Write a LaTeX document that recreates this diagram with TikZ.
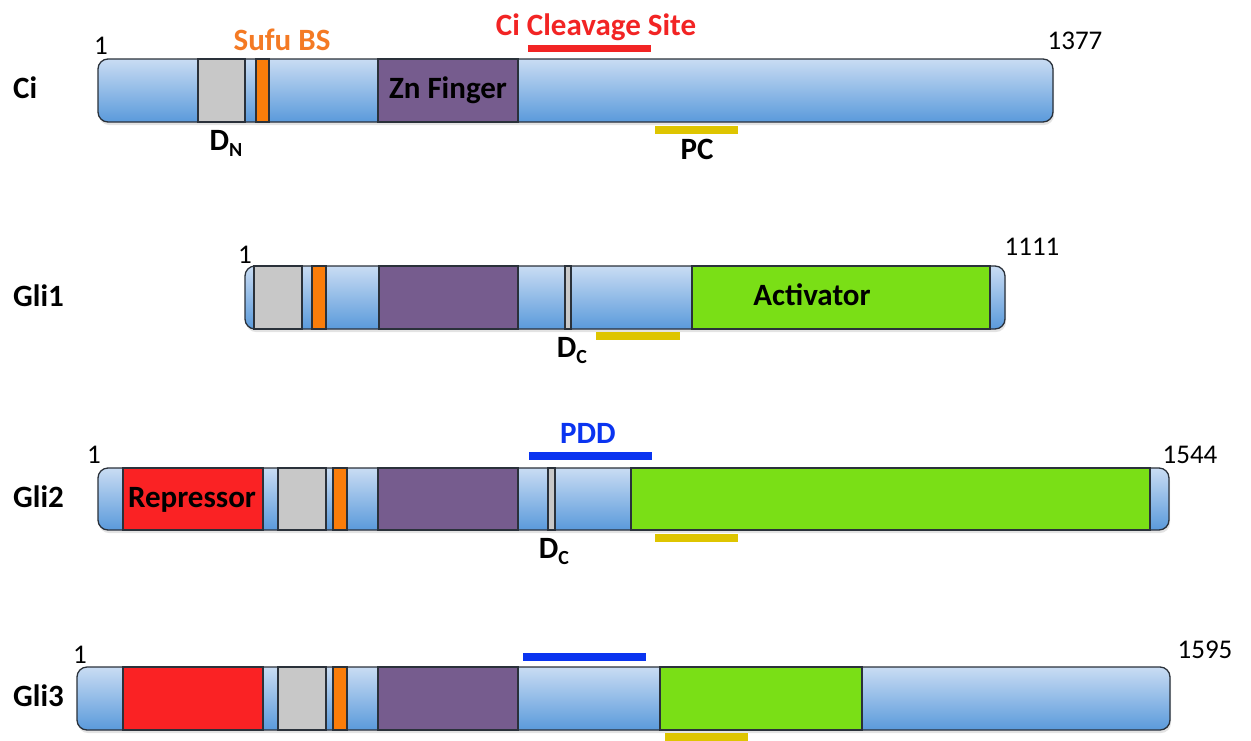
\documentclass[tikz,border=0pt]{standalone}
\usepackage{fontspec}
\setmainfont{Carlito}
\usetikzlibrary{shadows}

\definecolor{edge}{HTML}{2A313A}
\definecolor{bluetop}{HTML}{C9DCF3}
\definecolor{bluebot}{HTML}{5A9ADB}
\definecolor{dgray}{HTML}{C8C8C8}
\definecolor{sufu}{HTML}{FA7D0A}
\definecolor{zinc}{HTML}{765C8E}
\definecolor{repr}{HTML}{FA2224}
\definecolor{activ}{HTML}{7ADF16}
\definecolor{pcyel}{HTML}{DEC500}
\definecolor{pddblue}{HTML}{0A34F0}
\definecolor{cleave}{HTML}{F22424}
\definecolor{sufutext}{HTML}{F47A24}

\tikzset{
  bar/.style={draw=edge, line width=1.3pt, rounded corners=10pt,
    top color=bluetop, bottom color=bluebot,
    drop shadow={shadow xshift=1pt, shadow yshift=-3pt, opacity=0.22}},
  seg/.style={draw=edge, line width=1.3pt},
  featline/.style={line width=8pt},
  lbl/.style={font=\fontsize{31}{37}\selectfont\bfseries, inner sep=0pt, anchor=base},
  num/.style={font=\fontsize{27}{32}\selectfont, inner sep=0pt, anchor=base},
}
\newcommand{\subsc}[1]{\raisebox{-6pt}{\fontsize{20}{20}\selectfont #1}}

\begin{document}
\begin{tikzpicture}[x=1pt, y=-1pt]
\useasboundingbox (0,0) rectangle (1251,740);

% ---------------- Ci ----------------
\draw[bar] (98,59) rectangle (1053,122);
\draw[seg, fill=dgray] (198,59) rectangle (245,122);
\draw[seg, fill=sufu] (256,59) rectangle (269,122);
\draw[seg, fill=zinc] (378,59) rectangle (518,122);
\node[lbl] (zn) at (448,98) {Zn Finger};
\coordinate (cs1) at (528,48); \coordinate (cs2) at (651,48);
\draw[featline, line width=7pt, cleave] (cs1) -- (cs2);
\coordinate (pc1) at (655,129.5); \coordinate (pc2) at (738,129.5);
\draw[featline, pcyel] (pc1) -- (pc2);
\node[lbl, text=cleave] (cstext) at (596,35) {Ci Cleavage Site};
\node[lbl, text=sufutext] (sufu) at (282,50) {Sufu BS};
\node[lbl] (pc) at (697,159) {PC};
\node[lbl] (dn) at (226,150) {D\subsc{N}};
\node[num] (ci1) at (101,54) {1};
\node[num] (ciend) at (1075,49) {1377};
\node[lbl, anchor=base west] (ci) at (13,98) {Ci};

% ---------------- Gli1 ----------------
\draw[bar] (245,266) rectangle (1005,329);
\draw[seg, fill=dgray] (254,266) rectangle (302,329);
\draw[seg, fill=sufu] (312,266) rectangle (326,329);
\draw[seg, fill=zinc] (379,266) rectangle (518,329);
\draw[seg, fill=dgray] (565,266) rectangle (571,329);
\draw[seg, fill=activ] (692,266) rectangle (990,329);
\node[lbl] (act) at (812,305) {Activator};
\coordinate (g1y1) at (596,336); \coordinate (g1y2) at (680,336);
\draw[featline, pcyel] (g1y1) -- (g1y2);
\node[lbl] (dc1) at (572,357) {D\subsc{C}};
\node[num] (g11) at (245,263) {1};
\node[num] (g1end) at (1032,255) {1111};
\node[lbl, anchor=base west] (gli1) at (13,306) {Gli1};

% ---------------- Gli2 ----------------
\draw[bar] (98,468) rectangle (1169,530);
\draw[seg, fill=repr] (123,468) rectangle (263,530);
\draw[seg, fill=dgray] (278,468) rectangle (326,530);
\draw[seg, fill=sufu] (333,468) rectangle (347,530);
\draw[seg, fill=zinc] (378,468) rectangle (518,530);
\draw[seg, fill=dgray] (548,468) rectangle (555,530);
\draw[seg, fill=activ] (631,468) rectangle (1150,530);
\node[lbl] (rep2) at (192,507) {Repressor};
\coordinate (pdd1) at (529,456); \coordinate (pdd2) at (652,456);
\draw[featline, pddblue] (pdd1) -- (pdd2);
\coordinate (g2y1) at (655,538); \coordinate (g2y2) at (738,538);
\draw[featline, pcyel] (g2y1) -- (g2y2);
\node[lbl, text=pddblue] (pdd) at (588,443) {PDD};
\node[lbl] (dc2) at (554,558) {D\subsc{C}};
\node[num] (g21) at (94,463) {1};
\node[num] (g2end) at (1190,463) {1544};
\node[lbl, anchor=base west] (gli2) at (13,507) {Gli2};

% ---------------- Gli3 ----------------
\draw[bar] (77,667) rectangle (1170,730);
\draw[seg, fill=repr] (123,667) rectangle (263,730);
\draw[seg, fill=dgray] (278,667) rectangle (326,730);
\draw[seg, fill=sufu] (333,667) rectangle (347,730);
\draw[seg, fill=zinc] (378,667) rectangle (518,730);
\draw[seg, fill=activ] (660,667) rectangle (862,730);
\coordinate (pdd3a) at (523,657); \coordinate (pdd3b) at (646,657);
\draw[featline, pddblue] (pdd3a) -- (pdd3b);
\coordinate (g3y1) at (665,737); \coordinate (g3y2) at (748,737);
\draw[featline, pcyel] (g3y1) -- (g3y2);
\node[num] (g31) at (80,663) {1};
\node[num] (g3end) at (1205,658) {1595};
\node[lbl, anchor=base west] (gli3) at (13,706) {Gli3};
\end{tikzpicture}
\end{document}
